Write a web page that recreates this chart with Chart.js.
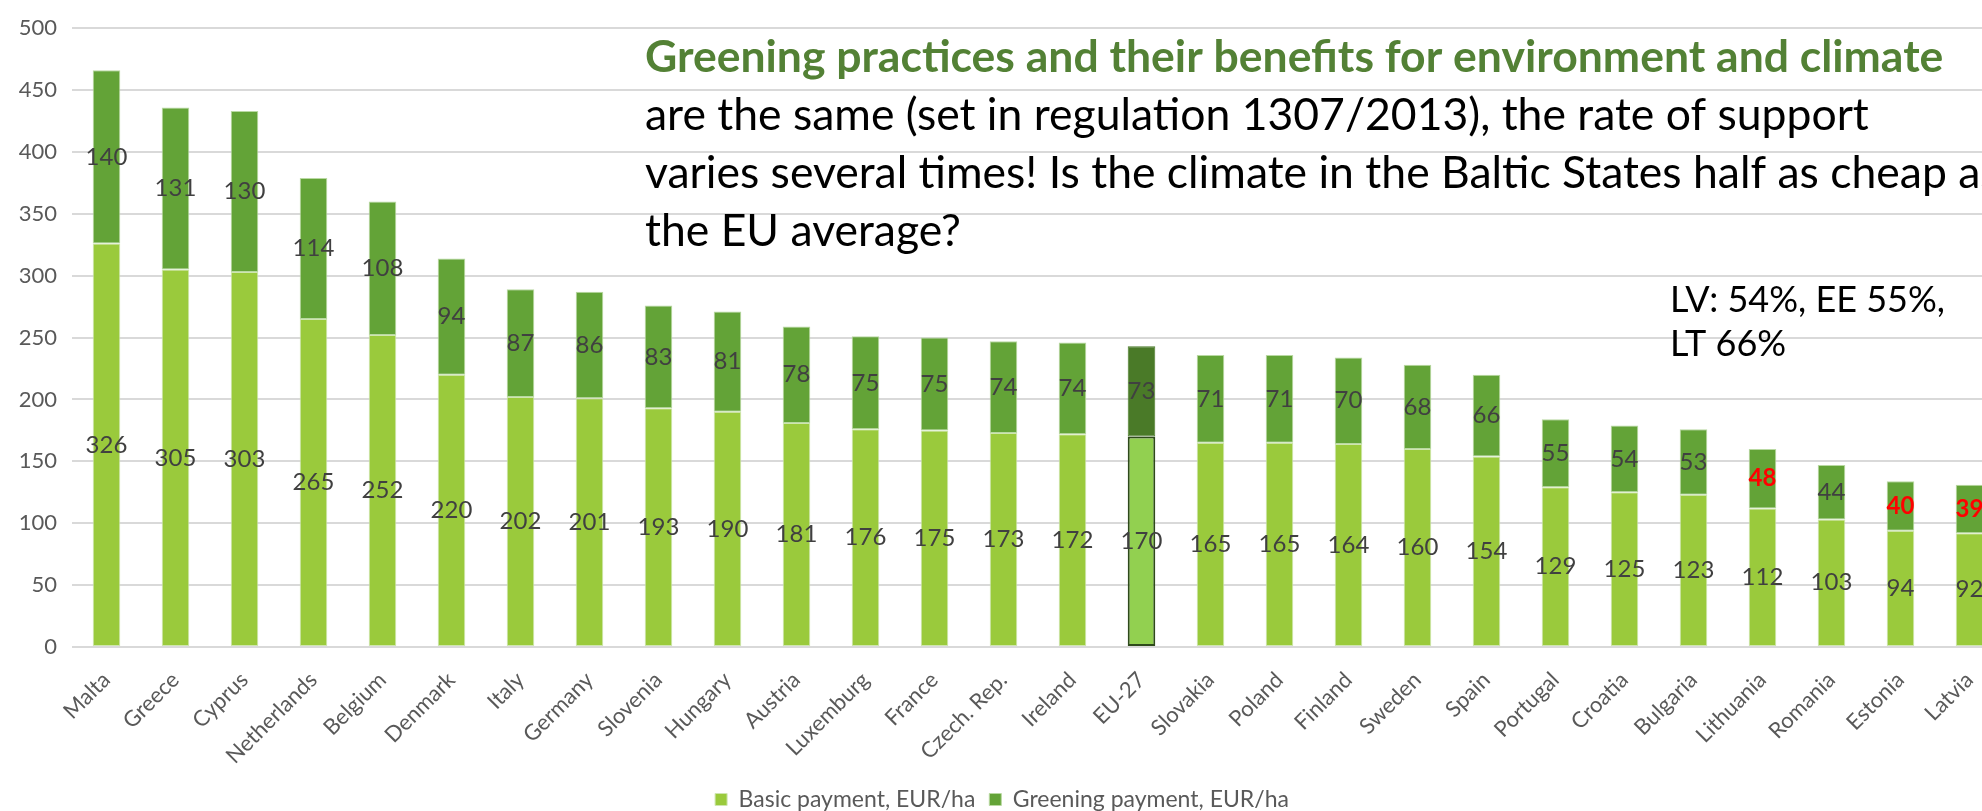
<!DOCTYPE html>
<html>
<head>
<meta charset="utf-8">
<script src="https://cdn.jsdelivr.net/npm/chart.js@4.4.1/dist/chart.umd.min.js"></script>
<style>
    html, body { margin: 0; padding: 0; background: #fff; overflow: hidden; }
    #wrap { width: 2004px; height: 811px; }
</style>
</head>
<body>
<div id="wrap"><canvas id="canvas-payments"></canvas></div>
<script>
// countries sorted by total direct payment
var countries = ['Malta', 'Greece', 'Cyprus', 'Netherlands', 'Belgium', 'Denmark', 'Italy', 'Germany',
    'Slovenia', 'Hungary', 'Austria', 'Luxemburg', 'France', 'Czech. Rep.', 'Ireland', 'EU-27',
    'Slovakia', 'Poland', 'Finland', 'Sweden', 'Spain', 'Portugal', 'Croatia', 'Bulgaria',
    'Lithuania', 'Romania', 'Estonia', 'Latvia'];
// basic payment, EUR/ha
var basic = [326, 305, 303, 265, 252, 220, 202, 201, 193, 190, 181, 176, 175, 173, 172, 170,
    165, 165, 164, 160, 154, 129, 125, 123, 112, 103, 94, 92];
// greening payment, EUR/ha
var greening = [140, 131, 130, 114, 108, 94, 87, 86, 83, 81, 78, 75, 75, 74, 74, 73,
    71, 71, 70, 68, 66, 55, 54, 53, 48, 44, 40, 39];
var yTicks = [0, 50, 100, 150, 200, 250, 300, 350, 400, 450, 500];
var seriesNames = ['Basic payment, EUR/ha', 'Greening payment, EUR/ha'];
var titleLines = [
    'Greening practices and their benefits for environment and climate',
    'are the same (set in regulation 1307/2013), the rate of support',
    'varies several times! Is the climate in the Baltic States half as cheap as',
    'the EU average?'
];
var noteLines = ['LV: 54%, EE 55%,', 'LT 66%'];
var baltic = ['Lithuania', 'Estonia', 'Latvia'];
var average = 'EU-27';

var FONT = 'Lato, "Open Sans", sans-serif';

// colours per bar, EU average is highlighted
var basicFill = countries.map(function(c) { return c === average ? '#92D050' : '#9ACA3C'; });
var greenFill = countries.map(function(c) { return c === average ? '#4A7A28' : '#63A337'; });
var basicBorder = countries.map(function(c) { return c === average ? '#2E4A1B' : '#CFE6B0'; });
var greenBorder = countries.map(function(c) { return c === average ? '#4A7A28' : '#B9D9A2'; });
var basicBorderW = countries.map(function(c) { return c === average ? 2 : 1; });

// value labels in the middle of every segment
var segmentLabels = {
    id: 'segmentLabels',
    afterDatasetsDraw: function(chart) {
        var ctx = chart.ctx;
        ctx.save();
        ctx.textAlign = 'center';
        ctx.textBaseline = 'middle';
        chart.data.datasets.forEach(function(ds, di) {
            var meta = chart.getDatasetMeta(di);
            meta.data.forEach(function(bar, i) {
                var p = bar.getProps(['x', 'y', 'base'], true);
                var red = di === 1 && baltic.indexOf(countries[i]) > -1;
                ctx.fillStyle = red ? '#FF0000' : '#404040';
                ctx.font = (red ? 'bold ' : '') + '24px ' + FONT;
                ctx.fillText(ds.data[i], p.x, (p.y + p.base) / 2);
            });
        });
        ctx.restore();
    }
};

// slide text written over the chart
var slideText = {
    id: 'slideText',
    afterDraw: function(chart) {
        var ctx = chart.ctx;
        ctx.save();
        ctx.textAlign = 'left';
        ctx.textBaseline = 'middle';
        titleLines.forEach(function(line, i) {
            ctx.fillStyle = i === 0 ? '#538135' : '#000000';
            ctx.font = i === 0 ? 'bold 44.5px ' + FONT : '44.5px ' + FONT;
            ctx.fillText(line, 645, 58 + i * 58);
        });
        ctx.fillStyle = '#000000';
        ctx.font = '36px ' + FONT;
        noteLines.forEach(function(line, i) {
            ctx.fillText(line, 1670, 300 + i * 44);
        });
        ctx.restore();
    }
};

var ctx = document.getElementById('canvas-payments').getContext('2d');
var myBarChart = new Chart(ctx, {
    type: 'bar',
    data: {
        labels: countries,
        datasets: [{
            label: seriesNames[0],
            data: basic,
            backgroundColor: basicFill,
            borderColor: basicBorder,
            borderWidth: basicBorderW,
            borderSkipped: false
        }, {
            label: seriesNames[1],
            data: greening,
            backgroundColor: greenFill,
            borderColor: greenBorder,
            borderWidth: 1,
            borderSkipped: false
        }]
    },
    options: {
        responsive: true,
        maintainAspectRatio: false,
        animation: false,
        events: [],
        layout: { padding: { top: 21, left: 0, right: 0, bottom: -10 } },
        datasets: { bar: { barPercentage: 0.4, categoryPercentage: 1 } },
        plugins: {
            title: { display: false },
            tooltip: { enabled: false },
            legend: {
                position: 'bottom',
                labels: {
                    font: { family: FONT, size: 23 },
                    color: '#595959',
                    boxWidth: 12,
                    boxHeight: 12,
                    padding: 14
                }
            }
        },
        scales: {
            x: {
                stacked: true,
                grid: { display: false },
                border: { display: false },
                afterFit: function(scale) {
                    scale.height = 127;
                },
                ticks: {
                    font: { family: FONT, size: 22 },
                    color: '#595959',
                    maxRotation: 45,
                    minRotation: 45,
                    autoSkip: false,
                    padding: 12
                }
            },
            y: {
                stacked: true,
                min: 0,
                max: yTicks[yTicks.length - 1],
                afterBuildTicks: function(scale) {
                    scale.ticks = yTicks.map(function(v) { return { value: v }; });
                },
                afterFit: function(scale) {
                    scale.width = 72;
                },
                grid: { color: '#D9D9D9', lineWidth: 2, drawTicks: false },
                border: { display: false },
                ticks: {
                    font: { family: FONT, size: 22 },
                    color: '#595959',
                    padding: 15
                }
            }
        }
    },
    plugins: [segmentLabels, slideText]
});
</script>
</body>
</html>
